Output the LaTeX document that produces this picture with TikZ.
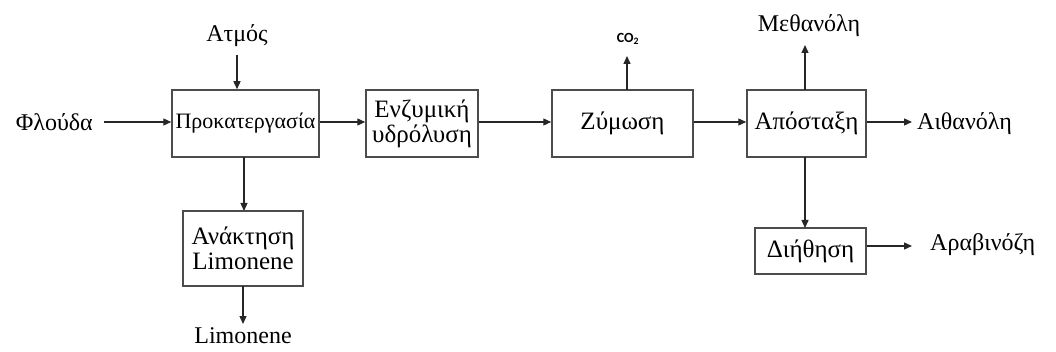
\documentclass[tikz,border=0pt]{standalone}
\usepackage{fontspec}
\setmainfont{Liberation Serif}
\newfontfamily\cofont{Carlito}
\usetikzlibrary{arrows.meta}
\begin{document}
\begin{tikzpicture}[x=1pt,y=-1pt,
  box/.style={draw=black!70,line width=1.5pt,minimum height=67pt,inner sep=2pt,font=\fontsize{25}{25}\selectfont,align=center},
  lbl/.style={font=\fontsize{24}{26}\selectfont,inner sep=0pt},
  arr/.style={draw=black!85,line width=1.3pt,-{Triangle[length=8pt,width=7pt]}}]
\useasboundingbox (0,0) rectangle (1056,352);
\node[box,minimum width=147pt,font=\fontsize{22}{24}\selectfont] (pro) at (245.5,123.5) {Προκατεργασία};
\node[box,minimum width=112pt] (enz) at (422,123.5) {Ενζυμική\\υδρόλυση};
\node[box,minimum width=141pt] (zym) at (622.5,123.5) {Ζύμωση};
\node[box,minimum width=119pt] (apo) at (806.5,123.5) {Απόσταξη};
\node[box,minimum width=111pt,minimum height=46pt] (dii) at (810.5,251) {Διήθηση};
\node[box,minimum width=120pt,minimum height=75pt] (ana) at (243,248.5) {Ανάκτηση\\Limonene};
\node[lbl,anchor=east] (flo) at (93,122) {Φλούδα};
\node[lbl] (atm) at (237,36) {Ατμός};
\node[lbl,anchor=base] (lim) at (243,343) {Limonene};
\node[font=\cofont\bfseries\fontsize{14}{15}\selectfont,inner sep=0pt] (co2) at (628,39) {CO\textsubscript{2}};
\node[lbl] (met) at (809,26) {Μεθανόλη};
\node[lbl,anchor=west] (ait) at (917,124) {Αιθανόλη};
\node[lbl,anchor=west] (ara) at (930,245) {Αραβινόζη};
\coordinate (flo1) at (104,122);
\draw[arr] (flo1) -- (flo1 -| pro.west);
\draw[arr] (atm.south |- 0,55) -- (atm.south |- pro.north);
\draw[arr] (244,157) -- (244,211);
\draw[arr] (243,286) -- (243,324);
\draw[arr] (pro.east |- 0,122) -- (enz.west |- 0,122);
\draw[arr] (enz.east |- 0,122) -- (zym.west |- 0,122);
\draw[arr] (627,90) -- (627,56);
\draw[arr] (zym.east |- 0,122) -- (apo.west |- 0,122);
\draw[arr] (805,90) -- (805,45);
\draw[arr] (apo.east |- 0,122) -- (912,122);
\draw[arr] (805,157) -- (805,228);
\draw[arr] (dii.east |- 0,246) -- (912,246);
\end{tikzpicture}
\end{document}
